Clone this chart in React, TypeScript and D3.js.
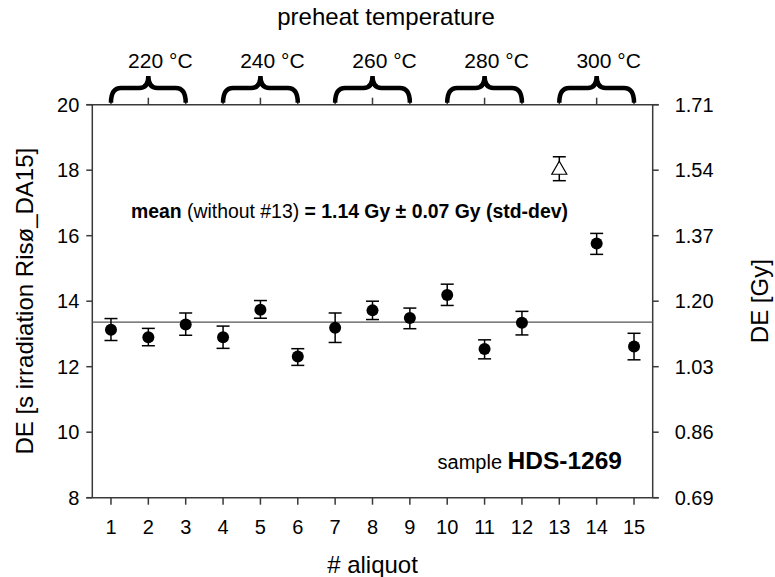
import React from "react";
import * as d3 from "d3";

const aliquots = [1, 2, 3, 4, 5, 6, 7, 8, 9, 10, 11, 12, 13, 14, 15];
const deValues = [13.13, 12.9, 13.29, 12.9, 13.74, 12.31, 13.19, 13.72, 13.49, 14.19, 12.54, 13.34, 18.06, 15.76, 12.62];
const errUpper = [13.47, 13.17, 13.64, 13.24, 14.02, 12.55, 13.64, 14.0, 13.79, 14.52, 12.82, 13.69, 18.41, 16.07, 13.02];
const errLower = [12.8, 12.64, 12.96, 12.56, 13.48, 12.04, 12.74, 13.44, 13.16, 13.87, 12.24, 12.97, 17.68, 15.43, 12.21];
const excluded = [13];
const meanValue = 13.36;
const leftTicks = [8, 10, 12, 14, 16, 18, 20];
const rightTickLabels = ["0.69", "0.86", "1.03", "1.20", "1.37", "1.54", "1.71"];
const tempLabels = ["220 °C", "240 °C", "260 °C", "280 °C", "300 °C"];
const groupStarts = [1, 4, 7, 10, 13];

const FONT = "'Liberation Sans', Arial, sans-serif";

export default function App() {
  const x = d3.scaleLinear().domain([0.5, 15.5]).range([92.3, 652.7]);
  const y = d3.scaleLinear().domain([8, 20]).range([497.7, 104.7]);
  const [x0, x1] = x.range();
  const [yb, yt] = y.range();
  const axisColor = "#3a3a3a";

  const bracePath = (a: number, b: number) => {
    const xa = x(a), xb = x(b), xm = (xa + xb) / 2;
    const yBase = yt - 2, yH = 88, yPeak = 76;
    return `M${xa},${yBase} Q${xa},${yH} ${xa + 10},${yH} L${xm - 9},${yH} Q${xm},${yH} ${xm},${yPeak} Q${xm},${yH} ${xm + 9},${yH} L${xb - 10},${yH} Q${xb},${yH} ${xb},${yBase}`;
  };

  return (
    <svg width={775} height={577} style={{ position: "absolute", left: 0, top: 0, background: "#fff" }} fontFamily={FONT}>
      <line x1={x0 - 6} x2={x1 + 6} y1={yt} y2={yt} stroke={axisColor} strokeWidth={1.5} />
      <line x1={x0 - 6} x2={x1 + 6} y1={yb} y2={yb} stroke={axisColor} strokeWidth={1.5} />
      <line x1={x0} x2={x0} y1={yt} y2={yb} stroke={axisColor} strokeWidth={1.5} />
      <line x1={x1} x2={x1} y1={yt} y2={yb} stroke={axisColor} strokeWidth={1.5} />

      {leftTicks.map((t) => (
        <g key={"l" + t}>
          <line x1={x0 - 6} x2={x0} y1={y(t)} y2={y(t)} stroke={axisColor} strokeWidth={1.5} />
          <text x={x0 - 13} y={y(t)} dy="0.36em" textAnchor="end" fontSize={20}>{t}</text>
        </g>
      ))}
      {leftTicks.map((t, i) => (
        <g key={"r" + t}>
          <line x1={x1} x2={x1 + 6} y1={y(t)} y2={y(t)} stroke={axisColor} strokeWidth={1.5} />
          <text x={x1 + 22} y={y(t)} dy="0.36em" textAnchor="start" fontSize={20}>{rightTickLabels[i]}</text>
        </g>
      ))}
      {aliquots.map((a) => (
        <g key={"b" + a}>
          <line x1={x(a)} x2={x(a)} y1={yb} y2={yb + 7} stroke={axisColor} strokeWidth={1.5} />
          <line x1={x(a)} x2={x(a)} y1={yt} y2={yt - 7} stroke={axisColor} strokeWidth={1.5} />
          <text x={x(a)} y={534} textAnchor="middle" fontSize={20}>{a}</text>
        </g>
      ))}

      {groupStarts.map((g, i) => (
        <g key={"g" + g}>
          <path d={bracePath(g, g + 2)} fill="none" stroke="#000" strokeWidth={4.5} />
          <text x={x(g + 1) + 12} y={68} textAnchor="middle" fontSize={21}>{tempLabels[i]}</text>
        </g>
      ))}
      <text x={386} y={25} textAnchor="middle" fontSize={24}>preheat temperature</text>

      <line x1={x0} x2={x1} y1={y(meanValue)} y2={y(meanValue)} stroke="#555" strokeWidth={1.3} />

      {aliquots.map((a, i) => {
        const cx = x(a);
        const open = excluded.includes(a);
        return (
          <g key={"p" + a}>
            <line x1={cx} x2={cx} y1={y(errUpper[i])} y2={y(errLower[i])} stroke="#000" strokeWidth={1.5} />
            <line x1={cx - 6.5} x2={cx + 6.5} y1={y(errUpper[i])} y2={y(errUpper[i])} stroke="#000" strokeWidth={1.5} />
            <line x1={cx - 6.5} x2={cx + 6.5} y1={y(errLower[i])} y2={y(errLower[i])} stroke="#000" strokeWidth={1.5} />
            {open ? (
              <path
                d={`M${cx},${y(deValues[i]) - 7} L${cx + 7.5},${y(deValues[i]) + 6} L${cx - 7.5},${y(deValues[i]) + 6} Z`}
                fill="#fff"
                stroke="#000"
                strokeWidth={1.2}
              />
            ) : (
              <circle cx={cx} cy={y(deValues[i])} r={6} fill="#000" />
            )}
          </g>
        );
      })}

      <text x={131} y={218} fontSize={19.4}>
        <tspan fontWeight="bold">mean</tspan>
        <tspan> (without #13) </tspan>
        <tspan fontWeight="bold">= 1.14 Gy ± 0.07 Gy (std-dev)</tspan>
      </text>
      <text x={622} y={469} textAnchor="end">
        <tspan fontSize={20}>sample </tspan>
        <tspan fontSize={24.5} fontWeight="bold">HDS-1269</tspan>
      </text>

      <text x={372.5} y={573} textAnchor="middle" fontSize={24}># aliquot</text>
      <text transform={`translate(33,${(yt + yb) / 2}) rotate(-90)`} textAnchor="middle" fontSize={24}>DE [s irradiation Risø_DA15]</text>
      <text transform={`translate(768,${(yt + yb) / 2}) rotate(-90)`} textAnchor="middle" fontSize={24}>DE [Gy]</text>
    </svg>
  );
}
